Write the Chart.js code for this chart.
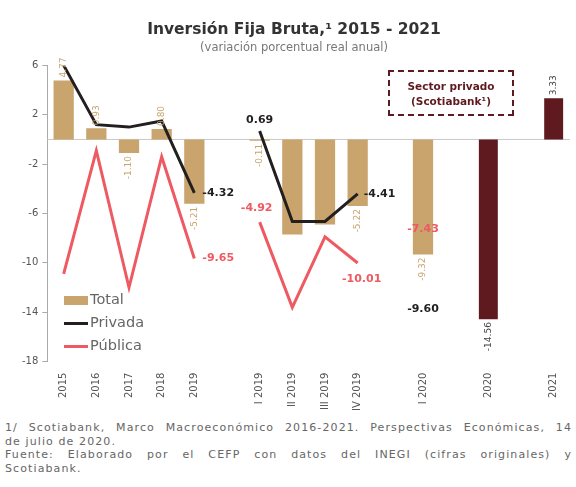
<!DOCTYPE html>
<html>
<head>
<meta charset="utf-8">
<script src="https://cdn.jsdelivr.net/npm/chart.js@4"></script>
<style>
  body { margin: 0; background: #fff; font-family: "DejaVu Sans", sans-serif; }
  #wrap { position: relative; width: 576px; height: 487px; }
  #box { position: absolute; width: 576px; height: 418px; left: 0; top: 0; }
  .leg { position: absolute; left: 64px; font-size: 14.5px; color: #666; line-height: 18px; }
  .leg span { display: inline-block; vertical-align: middle; margin-right: 2px; }
  #scot { position: absolute; left: 388px; top: 70px; width: 126px; height: 46px;
          border: 2px dashed #5e1a1f; color: #5e1a1f; font-weight: bold; font-size: 10.5px;
          text-align: center; line-height: 15px; padding-top: 7px; box-sizing: border-box; }
  #foot { position: absolute; left: 5px; top: 421px; width: 567px; font-size: 11px; letter-spacing: 1.1px;
          color: #666; line-height: 13.5px; }
  .j { text-align: justify; text-align-last: justify; }
</style>
</head>
<body>
<div id="wrap">
  <div id="box"><canvas id="chart"></canvas></div>
  <div class="leg" style="top:290px"><span style="width:24px;height:9px;background:#c9a46c"></span>Total</div>
  <div class="leg" style="top:313px"><span style="width:24px;height:3px;background:#231f20"></span>Privada</div>
  <div class="leg" style="top:336px"><span style="width:24px;height:3px;background:#ee5a62"></span>Pública</div>
  <div id="scot">Sector privado<br>(Scotiabank¹)</div>
  <div id="foot">
    <div class="j">1/ Scotiabank, Marco Macroeconómico 2016-2021. Perspectivas Económicas, 14</div>
    <div>de julio de 2020.</div>
    <div class="j">Fuente: Elaborado por el CEFP con datos del INEGI (cifras originales) y</div>
    <div>Scotiabank.</div>
  </div>
</div>
<script>
// categories (blank entries are the gaps between groups)
var categories = ['2015','2016','2017','2018','2019','','I 2019','II 2019','III 2019','IV 2019','','I 2020','','2020','','2021'];

var total =   [4.77, 0.90, -1.10, 0.85, -5.21, null, -0.11, -7.7, -6.9, -5.4, null, -9.32, null, null, null, null];
var privada = [6.0, 1.2, 1.0, 1.5, -4.32, null, 0.69, -6.65, -6.65, -4.41, null, -9.60, null, null, null, null];
var publica = [-10.9, -0.9, -12.0, -1.4, -9.65, null, -6.7, -13.6, -7.9, -10.01, null, -7.43, null, null, null, null];
var scotia =  [null, null, null, null, null, null, null, null, null, null, null, null, null, -14.56, null, 3.33];

// texts printed next to the marks
var totalText =   ['4.77','0.93','-1.10','0.80','-5.21',null,'-0.11',null,null,'-5.22',null,'-9.32',null,null,null,null];
var privadaText = [null,null,null,null,'-4.32',null,'0.69',null,null,'-4.41',null,'-9.60',null,null,null,null];
var publicaText = [null,null,null,null,'-9.65',null,'-4.92',null,null,'-10.01',null,'-7.43',null,null,null,null];
var scotiaText =  [null,null,null,null,null,null,null,null,null,null,null,null,null,'-14.56',null,'3.33'];

var yTicks = [6, 2, -2, -6, -10, -14, -18];

var TAN = '#c9a46c', DARK = '#231f20', RED = '#ee5a62', MAROON = '#5e1a1f';
var FONT = '"DejaVu Sans", sans-serif';

// where the line labels sit relative to their point
var lineLabelPos = {
  privada: { 4: [8, 0, 'left'], 6: [0, -11, 'center'], 9: [6, 0, 'left'], 11: [0, 51, 'center'] },
  publica: { 4: [8, 0, 'left'], 6: [-3, -14, 'center'], 9: [4, 16, 'center'], 11: [0, -2, 'center'] }
};

var zeroLine = {
  id: 'zeroLine',
  beforeDatasetsDraw: function(chart) {
    var c = chart.ctx, a = chart.chartArea, y = chart.scales.y.getPixelForValue(0);
    c.save();
    c.strokeStyle = '#c8c8c8';
    c.lineWidth = 1;
    c.beginPath(); c.moveTo(a.left, y); c.lineTo(a.right, y); c.stroke();
    c.restore();
  }
};

var valueLabels = {
  id: 'valueLabels',
  afterDatasetsDraw: function(chart) {
    var c = chart.ctx;
    c.save();
    // rotated bar labels
    [[0, totalText, TAN], [3, scotiaText, '#444']].forEach(function(d) {
      var meta = chart.getDatasetMeta(d[0]);
      d[1].forEach(function(t, i) {
        if (!t) return;
        var el = meta.data[i], v = chart.data.datasets[d[0]].data[i];
        c.save();
        c.font = '9px ' + FONT;
        c.fillStyle = d[2];
        c.textBaseline = 'middle';
        c.translate(el.x, v >= 0 ? el.y - 3 : Math.max(el.y, el.base) + 3);
        c.rotate(-Math.PI / 2);
        c.textAlign = v >= 0 ? 'left' : 'right';
        c.fillText(t, 0, 0);
        c.restore();
      });
    });
    // line labels
    [[1, privadaText, DARK, lineLabelPos.privada], [2, publicaText, RED, lineLabelPos.publica]].forEach(function(d) {
      var meta = chart.getDatasetMeta(d[0]);
      d[1].forEach(function(t, i) {
        if (!t) return;
        var el = meta.data[i], p = d[3][i] || [0, 0, 'center'];
        c.font = 'bold 11px ' + FONT;
        c.fillStyle = d[2];
        c.textAlign = p[2];
        c.textBaseline = 'middle';
        c.fillText(t, el.x + p[0], el.y + p[1]);
      });
    });
    c.restore();
  }
};

new Chart(document.getElementById('chart'), {
  data: {
    labels: categories,
    datasets: [
      { type: 'bar', label: 'Total', data: total, backgroundColor: TAN, grouped: false,
        barPercentage: 0.62, categoryPercentage: 1, order: 3 },
      { type: 'line', label: 'Privada', data: privada, borderColor: DARK, borderWidth: 3,
        pointRadius: 0, tension: 0, spanGaps: false, order: 1 },
      { type: 'line', label: 'Pública', data: publica, borderColor: RED, borderWidth: 3,
        pointRadius: 0, tension: 0, spanGaps: false, order: 2 },
      { type: 'bar', label: 'Scotiabank', data: scotia, backgroundColor: MAROON, grouped: false,
        barPercentage: 0.58, categoryPercentage: 1, order: 3 }
    ]
  },
  options: {
    responsive: true,
    maintainAspectRatio: false,
    animation: false,
    layout: { padding: { left: 18, right: 6, top: 0, bottom: 4 } },
    plugins: {
      legend: { display: false },
      tooltip: { enabled: false },
      title: { display: true, text: 'Inversión Fija Bruta,¹ 2015 - 2021', color: '#333',
               font: { family: FONT, size: 15.5, weight: 'bold' },
               padding: { top: 21, bottom: 2 } },
      subtitle: { display: true, text: '(variación porcentual real anual)', color: '#777',
                  font: { family: FONT, size: 11.5 },
                  padding: { top: 0, bottom: 10 } }
    },
    scales: {
      x: {
        grid: { display: false },
        border: { display: false },
        ticks: { autoSkip: false, maxRotation: 90, minRotation: 90, color: '#555',
                 font: { family: FONT, size: 10 } }
      },
      y: {
        min: -18, max: 6,
        afterBuildTicks: function(ax) { ax.ticks = yTicks.map(function(v) { return { value: v }; }); },
        grid: { drawOnChartArea: false, tickLength: 5, color: '#aaa' },
        border: { display: true, color: '#aaa' },
        ticks: { color: '#555', padding: 4, font: { family: FONT, size: 10 } }
      }
    }
  },
  plugins: [zeroLine, valueLabels]
});
</script>
</body>
</html>
